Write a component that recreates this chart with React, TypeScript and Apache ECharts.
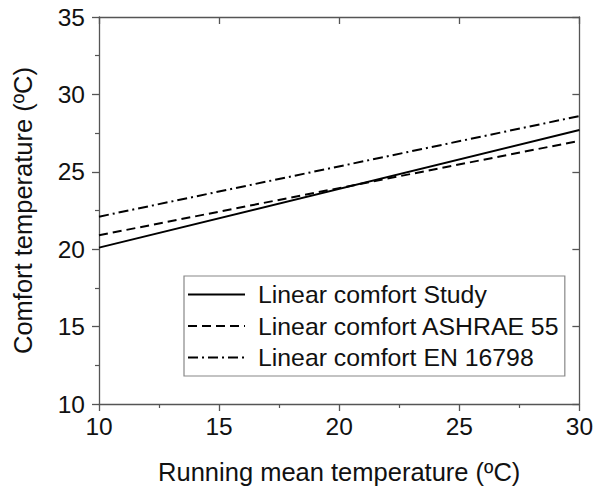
import React, { useEffect, useRef } from "react";
import * as echarts from "echarts";

const xValues = [10, 30];
const studyValues = [20.1, 27.7];
const ashraeValues = [20.9, 27.0];
const enValues = [22.1, 28.6];
const seriesNames = [
  "Linear comfort Study",
  "Linear comfort ASHRAE 55",
  "Linear comfort EN 16798",
];
const xTitle = "Running mean temperature (ºC)";
const yTitle = "Comfort temperature (ºC)";

const FONT = "'Liberation Sans', Arial, sans-serif";
const AXIS_COLOR = "#555";

export default function App() {
  const ref = useRef<HTMLDivElement>(null);
  useEffect(() => {
    document.body.style.margin = "0";
    if (!ref.current) return;
    const chart = echarts.init(ref.current, null, { renderer: "svg" });
    const pairs = (ys: number[]) => xValues.map((x, i) => [x, ys[i]]);
    const axisLine = { show: true, lineStyle: { color: AXIS_COLOR, width: 1.3 } };
    chart.setOption({
      animation: false,
      backgroundColor: "#fff",
      grid: { left: 99, right: 14, top: 17, bottom: 82 },
      xAxis: [
        {
          type: "value",
          min: 10,
          max: 30,
          interval: 5,
          position: "bottom",
          axisLine,
          axisTick: { show: true, inside: false, length: 7, lineStyle: { color: AXIS_COLOR, width: 1.3 } },
          minorTick: { show: true, splitNumber: 2, length: 4, lineStyle: { color: AXIS_COLOR, width: 1.2 } },
          splitLine: { show: false },
          minorSplitLine: { show: false },
          axisLabel: { fontFamily: FONT, fontSize: 24.5, color: "#111", margin: 10 },
          name: xTitle,
          nameLocation: "middle",
          nameGap: 55,
          nameTextStyle: { fontFamily: FONT, fontSize: 25.5, color: "#111" },
        },
        {
          type: "value",
          min: 10,
          max: 30,
          interval: 5,
          position: "top",
          axisLine,
          axisTick: { show: true, inside: true, length: 7, lineStyle: { color: AXIS_COLOR, width: 1.3 } },
          axisLabel: { show: false },
          splitLine: { show: false },
        },
      ],
      yAxis: [
        {
          type: "value",
          min: 10,
          max: 35,
          interval: 5,
          position: "left",
          axisLine,
          axisTick: { show: true, inside: false, length: 7, lineStyle: { color: AXIS_COLOR, width: 1.3 } },
          minorTick: { show: true, splitNumber: 2, length: 4, lineStyle: { color: AXIS_COLOR, width: 1.2 } },
          splitLine: { show: false },
          minorSplitLine: { show: false },
          axisLabel: { fontFamily: FONT, fontSize: 24.5, color: "#111", margin: 14 },
          name: yTitle,
          nameLocation: "middle",
          nameGap: 63,
          nameRotate: 90,
          nameTextStyle: { fontFamily: FONT, fontSize: 25.5, color: "#111" },
        },
        {
          type: "value",
          min: 10,
          max: 35,
          interval: 5,
          position: "right",
          axisLine,
          axisTick: { show: true, inside: true, length: 7, lineStyle: { color: AXIS_COLOR, width: 1.3 } },
          axisLabel: { show: false },
          splitLine: { show: false },
        },
      ],
      legend: {
        show: true,
        orient: "vertical",
        left: 184,
        top: 276,
        padding: [6, 5, 6, 3],
        itemGap: 6.5,
        itemWidth: 57,
        itemHeight: 24,
        borderColor: "#888",
        borderWidth: 1.2,
        backgroundColor: "#fff",
        itemStyle: { opacity: 0 },
        textStyle: { fontFamily: FONT, fontSize: 24.8, color: "#111", padding: [0, 0, 0, 8] },
        data: seriesNames,
      },
      series: [
        {
          name: seriesNames[0],
          type: "line",
          xAxisIndex: 0,
          yAxisIndex: 0,
          symbol: "none",
          data: pairs(studyValues),
          lineStyle: { color: "#000", width: 2, type: "solid" },
          itemStyle: { color: "#000" },
        },
        {
          name: seriesNames[1],
          type: "line",
          xAxisIndex: 0,
          yAxisIndex: 0,
          symbol: "none",
          data: pairs(ashraeValues),
          lineStyle: { color: "#000", width: 2, type: [9, 5] },
          itemStyle: { color: "#000" },
        },
        {
          name: seriesNames[2],
          type: "line",
          xAxisIndex: 0,
          yAxisIndex: 0,
          symbol: "none",
          data: pairs(enValues),
          lineStyle: { color: "#000", width: 2, type: [10, 4, 2, 4] },
          itemStyle: { color: "#000" },
        },
      ],
    });
    return () => chart.dispose();
  }, []);
  return <div ref={ref} style={{ width: 596, height: 490 }} />;
}
